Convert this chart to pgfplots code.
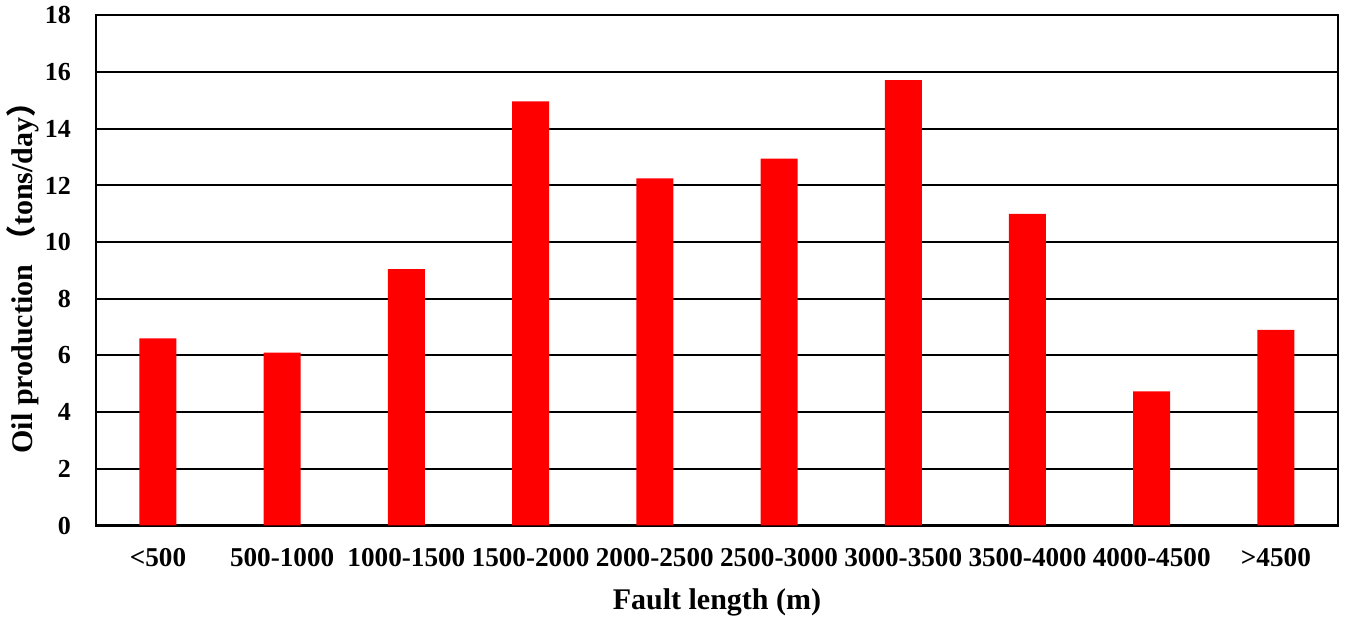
\documentclass[border=0pt]{standalone}
\usepackage{fontspec}
\setmainfont{Liberation Serif}
\newfontfamily\cjk{Noto Sans CJK SC}
\usepackage{pgfplots}
\pgfplotsset{compat=1.18}

\begin{document}
\begin{tikzpicture}
\begin{axis}[
    scale only axis,
    width=621pt, height=255pt,
    ybar, bar width=18.5pt,
    xmin=-0.5, xmax=9.5,
    ymin=0, ymax=18,
    ytick={0,2,...,18},
    xtick=data,
    xticklabels={<500,500-1000,1000-1500,1500-2000,2000-2500,2500-3000,3000-3500,3500-4000,4000-4500,>4500},
    major tick length=0pt,
    axis line style={line width=1pt},
    ymajorgrids,
    grid style={black, line width=1pt},
    tick label style={font=\fontsize{13}{15}\selectfont\bfseries},
    /pgf/number format/assume math mode=true,
    yticklabel style={xshift=-9pt},
    xticklabel style={yshift=-8pt, font=\fontsize{13.6}{15}\selectfont\bfseries},
    label style={font=\fontsize{15}{18}\selectfont\bfseries},
    xlabel={Fault length (m)},
    ylabel={Oil production\hspace{0.3em}{\cjk （}tons/day{\cjk ）}},
    xlabel style={yshift=-4pt},
    ylabel style={yshift=-4pt},
]
\addplot[fill=red, draw=none] coordinates {
    (0,6.6) (1,6.1) (2,9.05) (3,14.97) (4,12.25)
    (5,12.95) (6,15.72) (7,11.0) (8,4.73) (9,6.9)
};
\end{axis}
\path (current axis.north east) ++(6pt,4pt);
\end{tikzpicture}
\end{document}
